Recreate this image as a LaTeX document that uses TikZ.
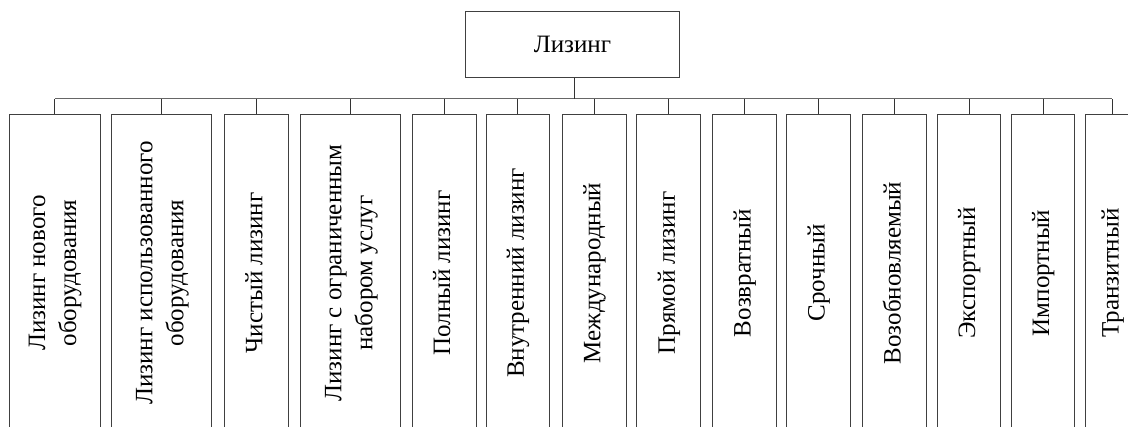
\documentclass[tikz,border=0pt]{standalone}
\usepackage{fontspec}
\setmainfont{Liberation Serif}
\usepackage{graphicx}
\begin{document}
\begin{tikzpicture}[x=1pt,y=-1pt,
  boxline/.style={draw=black!75, line width=1pt},
  typebox/.style={boxline, inner sep=0pt, minimum height=317pt, anchor=north},
  rootbox/.style={boxline, inner sep=0pt, minimum width=213.6pt, minimum height=65.7pt},
  bus/.style={draw=black!60, line width=1.4pt},
  stub/.style={draw=black!80, line width=0.9pt},
  lbl/.style={font=\fontsize{25}{31}\selectfont}]
\useasboundingbox (0,0) rectangle (1128,427);
\clip (0,0) rectangle (1128,427);
\newcommand{\vtxt}[1]{\rotatebox{90}{\begin{tabular}{@{}c@{}}#1\end{tabular}}}
\node[rootbox, lbl] (root) at (572.5,44.85) {Лизинг};
\node[typebox, lbl, minimum width=91pt]  (b1)  at (54.5,114)  {\vtxt{Лизинг нового\\оборудования}};
\node[typebox, lbl, minimum width=100pt] (b2)  at (161.7,114) {\vtxt{Лизинг использованного\\оборудования}};
\node[typebox, lbl, minimum width=63.7pt] (b3)  at (256.2,114) {\vtxt{Чистый лизинг}};
\node[typebox, lbl, minimum width=100pt] (b4)  at (350.7,114) {\vtxt{Лизинг с ограниченным\\набором услуг}};
\node[typebox, lbl, minimum width=64pt]  (b5)  at (444,114)   {\vtxt{Полный лизинг}};
\node[typebox, lbl, minimum width=63.3pt] (b6)  at (517.7,114) {\vtxt{Внутренний лизинг}};
\node[typebox, lbl, minimum width=63.7pt] (b7)  at (594.2,114) {\vtxt{Международный}};
\node[typebox, lbl, minimum width=64pt]  (b8)  at (668.7,114) {\vtxt{Прямой лизинг}};
\node[typebox, lbl, minimum width=63.3pt] (b9)  at (744.4,114) {\vtxt{Возвратный}};
\node[typebox, lbl, minimum width=63.3pt] (b10) at (818.4,114) {\vtxt{Срочный}};
\node[typebox, lbl, minimum width=63.3pt] (b11) at (894.4,114) {\vtxt{Возобновляемый}};
\node[typebox, lbl, minimum width=63.4pt] (b12) at (969,114)   {\vtxt{Экспортный}};
\node[typebox, lbl, minimum width=63.4pt] (b13) at (1043,114)  {\vtxt{Импортный}};
\node[typebox, lbl, minimum width=54pt]  (b14) at (1112.3,114) {\vtxt{Транзитный}};
\coordinate (busL) at (54.5,98.7);
\coordinate (busR) at (1112.3,98.7);
\draw[bus] (busL) -- (busR);
\draw[stub] (root.south -| 574,0) -- (574,98.7);
\foreach \n in {b1,b2,b3,b4,b5,b6,b7,b8,b9,b10,b11,b12,b13,b14}
  \draw[stub] (\n.north) -- (\n.north |- busL);
\end{tikzpicture}
\end{document}
